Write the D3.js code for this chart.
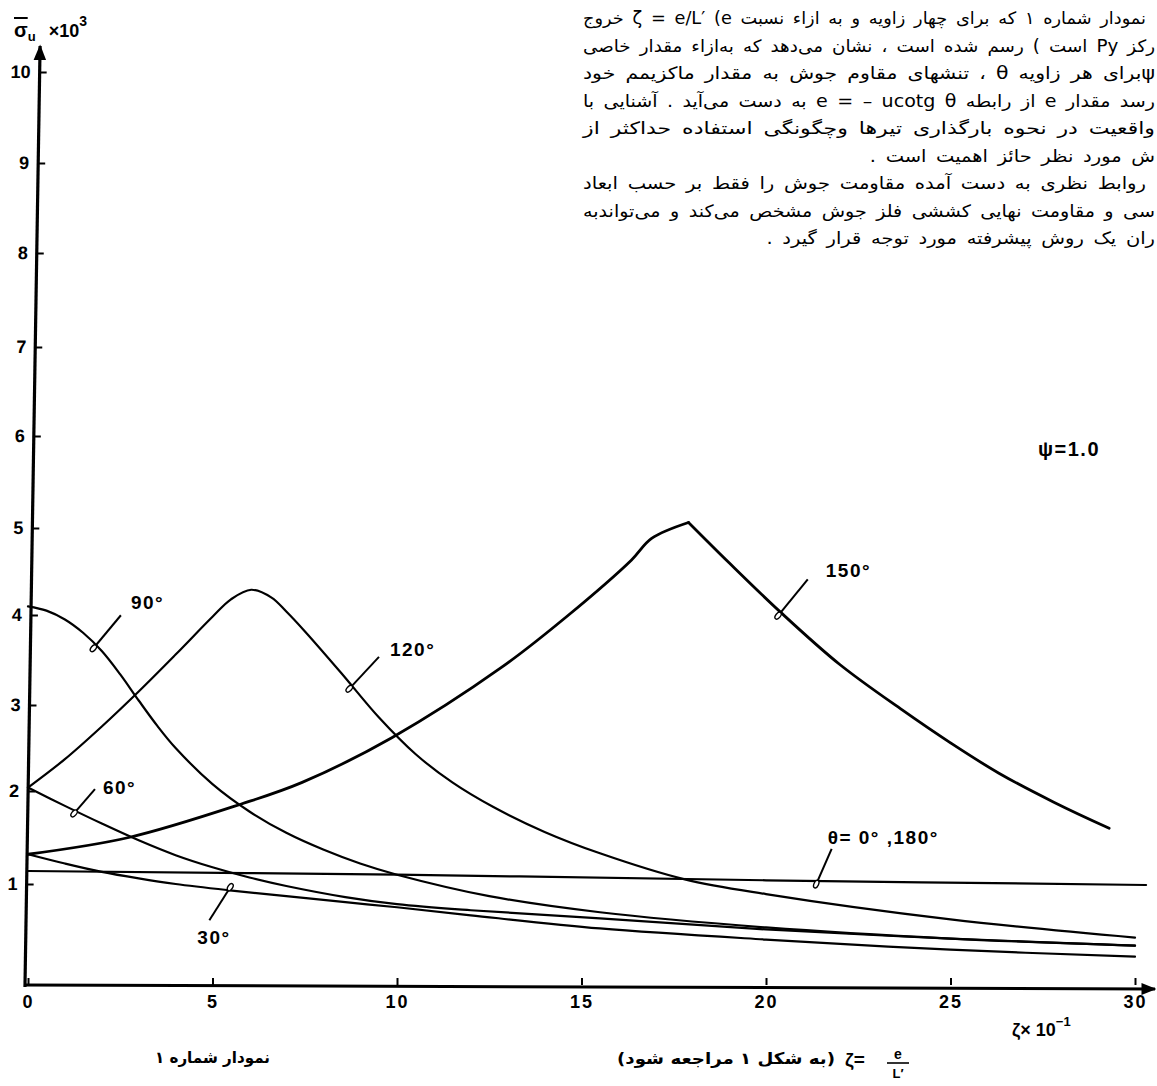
<!DOCTYPE html>
<html><head><meta charset="utf-8">
<script src="https://cdn.jsdelivr.net/npm/d3@7/dist/d3.min.js"></script>
<style>
html,body{margin:0;padding:0;background:#fff;}
svg{display:block;}
</style></head>
<body>
<svg id="chart" width="1157" height="1086"></svg>
<script>
// ---------------- data ----------------
const xTickValues = [0, 5, 10, 15, 20, 25, 30];
const xTickLabels = ["0", "5", "10", "15", "20", "25", "30"];
const yTickValues = [1, 2, 3, 4, 5, 6, 7, 8, 9, 10];

// x = zeta x 10 , y = sigma_u x 10^-3
const theta0_180 = [[0,1.14],[10,1.10],[20,1.04],[30.3,0.99]];
const theta30  = [[0,1.32],[1,1.22],[2,1.13],[3,1.06],[4,1.0],[5.4,0.94],[7,0.88],[8.6,0.82],[10,0.77],[12,0.69],[15.5,0.56],[20,0.45],[25,0.35],[30,0.28]];
const theta60  = [[0,2.04],[1,1.84],[2,1.65],[3,1.47],[4,1.31],[5,1.18],[6,1.07],[7,0.98],[8.6,0.87],[10,0.8],[12,0.74],[15.5,0.66],[20,0.55],[25,0.46],[30,0.39]];
const theta90  = [[0,4.1],[0.5,4.05],[1,3.95],[1.5,3.8],[2,3.6],[2.5,3.34],[3,3.05],[3.5,2.76],[4,2.5],[5,2.08],[6,1.78],[7,1.55],[8,1.37],[9,1.22],[10,1.1],[12.5,0.88],[15.5,0.72],[20,0.57],[25,0.46],[30,0.39]];
const theta120 = [[0,2.04],[1,2.37],[2,2.75],[3,3.15],[4,3.56],[5,3.98],[5.5,4.18],[6.05,4.29],[6.6,4.2],[7,4.04],[7.5,3.82],[8.5,3.35],[9.5,2.86],[10.5,2.43],[11.5,2.1],[12.6,1.83],[14,1.56],[15.5,1.33],[17.8,1.05],[20,0.9],[25,0.65],[30,0.47]];
const theta150 = [[0,1.32],[2.73,1.5],[5.78,1.86],[7.43,2.1],[9.86,2.62],[12.84,3.42],[14.65,4.0],[16.35,4.63],[16.9,4.88],[17.9,5.06],[19,4.6],[20.4,4.03],[22,3.45],[23.7,2.94],[25,2.56],[26.3,2.21],[27.8,1.88],[29.3,1.6]];

const noteLines = [
  "نمودار شماره ۱ که برای چهار زاویه و به ازاء نسبت ζ = e/L′ (e خروج",
  "رکز Py است ) رسم شده است ، نشان می‌دهد که به‌ازاء مقدار خاصی",
  "ψبرای هر زاویه  θ  ، تنشهای مقاوم جوش به مقدار ماکزیمم خود",
  "رسد   مقدار e از رابطه e = – ucotg θ به دست می‌آید . آشنایی با",
  "واقعیت در نحوه بارگذاری تیرها وچگونگی استفاده حداکثر از",
  "ش مورد نظر حائز اهمیت است .",
  "روابط نظری به دست آمده مقاومت جوش را فقط بر حسب ابعاد",
  "سی و مقاومت نهایی کششی فلز جوش مشخص می‌کند و می‌تواندبه",
  "ران یک روش پیشرفته مورد توجه قرار گیرد ."
];
const captionLeft = "نمودار شماره ۱";
const captionCenter = "(به شکل ۱ مراجعه شود)";

// ---------------- layout ----------------
const svg = d3.select("#chart");
const x = d3.scaleLinear().domain([0, 30]).range([28, 1135]);
// hand-drawn vertical axis: uneven tick spacing
const y = d3.scaleLinear().domain([0,1,2,3,4,5,6,7,8,9,10])
  .range([985, 884, 791, 705, 615, 528, 436, 347, 253, 163, 72]);

const defs = svg.append("defs");
defs.append("marker").attr("id","arr").attr("viewBox","0 0 10 10").attr("refX",9).attr("refY",5)
  .attr("markerWidth",5).attr("markerHeight",5).attr("orient","auto")
  .append("path").attr("d","M0,1 L10,5 L0,9 Z").attr("fill","#000");

const numFont = "'Liberation Sans', Arial, sans-serif";
const faFont = "'DejaVu Sans', sans-serif";

// ---- y axis (slightly slanted like the hand drawing) ----
const yAxisG = svg.append("g")
  .attr("transform", `translate(0,${y(0)}) skewX(-0.92) translate(25,${-y(0)})`);
yAxisG.call(d3.axisLeft(y).tickValues(yTickValues).tickSize(-7).tickPadding(9).tickFormat(d3.format("d")));
yAxisG.select(".domain").remove();
yAxisG.selectAll(".tick line").attr("stroke","#000").attr("stroke-width",2);
yAxisG.selectAll(".tick text").attr("font-family",numFont).attr("font-weight","bold").attr("font-size",18).attr("fill","#000");
yAxisG.append("line").attr("x1",0).attr("x2",0).attr("y1",y(0)+2).attr("y2",46)
  .attr("stroke","#000").attr("stroke-width",3.2).attr("marker-end","url(#arr)");

// ---- x axis ----
const xAxisG = svg.append("g").attr("transform", `translate(0,${y(0)})`);
xAxisG.call(d3.axisBottom(x).tickValues(xTickValues).tickSize(-7).tickPadding(10)
  .tickFormat((d,i)=>xTickLabels[i]));
xAxisG.select(".domain").remove();
xAxisG.selectAll(".tick line").attr("stroke","#000").attr("stroke-width",2);
xAxisG.selectAll(".tick text").attr("font-family",numFont).attr("font-weight","bold").attr("font-size",18)
  .attr("fill","#000").attr("letter-spacing",2);
xAxisG.append("line").attr("x1",x(0)-4).attr("x2",1155).attr("y1",0).attr("y2",4)
  .attr("stroke","#000").attr("stroke-width",3).attr("marker-end","url(#arr)");

// ---- curves ----
const line = d3.line().x(d=>x(d[0])).y(d=>y(d[1])).curve(d3.curveCatmullRom.alpha(0.5));
const curves = svg.append("g").attr("fill","none").attr("stroke","#000").attr("stroke-linecap","round");
[theta0_180, theta30, theta60, theta90, theta120].forEach(s=>{
  curves.append("path").attr("d",line(s)).attr("stroke-width",2.2);
});
// 150° curve has a sharp apex: draw the rising and falling branches separately
const iPeak = d3.maxIndex(theta150, d=>d[1]);
curves.append("path").attr("d",line(theta150.slice(0,iPeak+1))).attr("stroke-width",2.8);
curves.append("path").attr("d",line(theta150.slice(iPeak))).attr("stroke-width",2.8);

// ---- curve annotations (pointer + label) ----
function interpY(series, xv){
  for (let i=1;i<series.length;i++){
    const [x0,y0]=series[i-1],[x1,y1]=series[i];
    if (xv<=x1){ const t=(xv-x0)/(x1-x0); return y0+t*(y1-y0); }
  }
  return series[series.length-1][1];
}
const annotations = [
  {s:theta90,  at:1.84, p:[25,-30], l:[35,-36], text:"90°"},
  {s:theta120, at:8.78, p:[27,-29], l:[38,-30], text:"120°"},
  {s:theta150, at:20.4, p:[27,-33], l:[45,-35], text:"150°"},
  {s:theta60,  at:1.3,  p:[19,-22], l:[27,-17], text:"60°"},
  {s:theta30,  at:5.43, p:[-19,30], l:[-31,54], text:"30°"},
  {s:theta0_180, at:21.4, p:[14,-32], l:[10,-37], text:"θ= 0°  ,180°"}
];
const ann = svg.append("g");
annotations.forEach(a=>{
  const cx = x(a.at), cy = y(interpY(a.s, a.at));
  ann.append("line").attr("x1",cx+a.p[0]).attr("y1",cy+a.p[1]).attr("x2",cx).attr("y2",cy)
    .attr("stroke","#000").attr("stroke-width",2);
  const ang = Math.atan2(-a.p[1], -a.p[0])*180/Math.PI;
  const ex = cx-a.p[0]*0.1, ey = cy-a.p[1]*0.1;
  ann.append("ellipse").attr("cx",ex).attr("cy",ey).attr("rx",4).attr("ry",2.3)
    .attr("transform",`rotate(${ang},${ex},${ey})`)
    .attr("fill","#fff").attr("stroke","#000").attr("stroke-width",1.4);
  ann.append("text").attr("x",cx+a.l[0]).attr("y",cy+a.l[1]).text(a.text)
    .attr("font-family",numFont).attr("font-weight","bold").attr("font-size",19)
    .attr("letter-spacing",1.5).attr("fill","#000");
});

// ---- psi label ----
svg.append("text").attr("x",1038).attr("y",456).text("ψ=1.0")
  .attr("font-family",numFont).attr("font-weight","bold").attr("font-size",20).attr("letter-spacing",1.5);

// ---- y axis title ----
const yt = svg.append("text").attr("x",14).attr("y",37).attr("font-family",numFont).attr("font-weight","bold").attr("font-size",20);
yt.append("tspan").text("σ").attr("text-decoration","overline");
yt.append("tspan").text("u").attr("font-size",13).attr("dy",4);
yt.append("tspan").text(" ×10").attr("dy",-4).attr("dx",8).attr("font-size",18);
yt.append("tspan").text("3").attr("font-size",14).attr("dy",-11);

// ---- x axis unit ----
const xu = svg.append("text").attr("x",1012).attr("y",1036).attr("font-family",numFont).attr("font-weight","bold").attr("font-size",18);
xu.append("tspan").text("ζ× 10");
xu.append("tspan").text("−1").attr("font-size",13).attr("dy",-10);

// ---- Persian note block (RTL, justified) ----
const note = svg.append("g").attr("font-family",faFont).attr("font-size",17).attr("fill","#000");
const leftEdge = 583;
const rows = noteLines.map((ln,i)=>{
  const right = (i===0 || i===6) ? 1146 : 1155;
  const t = note.append("text").attr("x",right).attr("y",24+i*27.5)
    .style("direction","rtl").attr("text-anchor","start").attr("word-spacing",3).text(ln);
  return {t, right, justify: !(i===5 || i===8), w: t.node().getComputedTextLength()};
});
const stretch = d3.mean(rows.filter(r=>r.justify), r=>(r.right-leftEdge)/r.w);
rows.forEach(r=>{
  const len = r.justify ? (r.right-leftEdge) : r.w*stretch;
  r.t.attr("textLength", len).attr("lengthAdjust","spacingAndGlyphs");
});

// ---- bottom captions ----
svg.append("text").attr("x",155).attr("y",1063).style("direction","rtl").attr("text-anchor","end")
  .attr("font-family",faFont).attr("font-weight","bold").attr("font-size",16)
  .attr("textLength",115).attr("lengthAdjust","spacingAndGlyphs").text(captionLeft);
svg.append("text").attr("x",835).attr("y",1064).style("direction","rtl").attr("text-anchor","start")
  .attr("font-family",faFont).attr("font-weight","bold").attr("font-size",16)
  .attr("textLength",218).attr("lengthAdjust","spacingAndGlyphs").text(captionCenter);
svg.append("text").attr("x",845).attr("y",1066).attr("font-family",numFont).attr("font-weight","bold").attr("font-size",19).text("ζ=");
svg.append("text").attr("x",898).attr("y",1059).attr("text-anchor","middle").attr("font-family",numFont).attr("font-weight","bold").attr("font-size",14).text("e");
svg.append("line").attr("x1",887).attr("x2",909).attr("y1",1063).attr("y2",1063).attr("stroke","#000").attr("stroke-width",1.6);
svg.append("text").attr("x",898).attr("y",1078).attr("text-anchor","middle").attr("font-family",numFont).attr("font-weight","bold").attr("font-size",13).text("L′");
</script>
</body></html>
